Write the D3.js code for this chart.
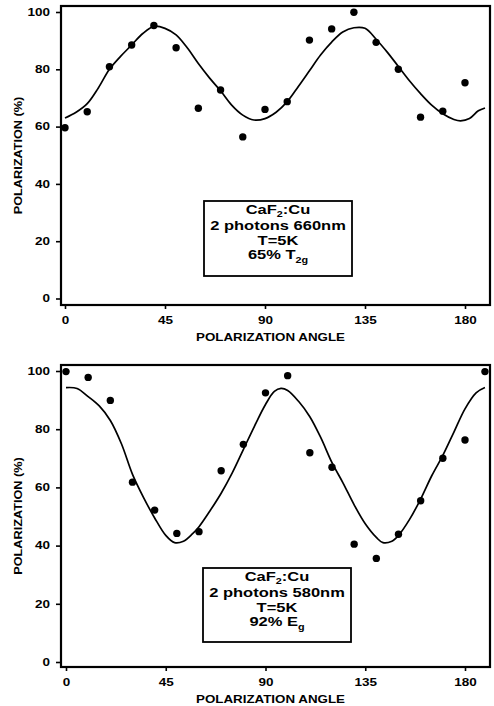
<!DOCTYPE html>
<html>
<head>
<meta charset="utf-8">
<script src="https://cdn.jsdelivr.net/npm/d3@7"></script>
<style>
  body { margin: 0; background: #fff; }
  text { font-family: "Liberation Sans", Arial, sans-serif; font-weight: bold; fill: #000; }
</style>
</head>
<body>
<script>
// tick labels
var angleTicks = [0, 45, 90, 135, 180];
var percentTicks = [0, 20, 40, 60, 80, 100];

// top panel: 2 photons 660nm
var topAngles = [0, 10, 20, 30, 40, 50, 60, 70, 80, 90, 100, 110, 120, 130, 140, 150, 160, 170, 180];
var topValues = [59.6, 65.2, 80.9, 88.5, 95.3, 87.5, 66.4, 72.8, 56.4, 66.0, 68.7, 90.2, 94.1, 99.9, 89.4, 80.0, 63.3, 65.4, 75.3];
var topFitAngles = [0, 5, 10, 15, 20, 25, 30, 35, 40, 45, 50, 55, 60, 65, 70, 75, 80, 85, 90, 95, 100, 105, 110, 115, 120, 125, 130, 135, 140, 145, 150, 155, 160, 165, 170, 175, 178, 182, 186, 189];
var topFitValues = [63, 65, 68, 73.5, 80, 84.5, 88.5, 92.5, 95, 94.3, 92, 87.5, 82, 77, 72.5, 67.5, 64, 62.3, 62.8, 65, 68.7, 74, 79.5, 85, 89.5, 93, 94.5, 94.3, 90.5, 86, 81, 76, 71.5, 67.5, 64.5, 62.5, 62, 62.8, 65.5, 66.5];
var topLegend = [[["CaF", 0], ["2", 1], [":Cu", 0]], [["2 photons 660nm", 0]], [["T=5K", 0]], [["65% T", 0], ["2g", 1]]];

// bottom panel: 2 photons 580nm
var bottomAngles = [0, 10, 20, 30, 40, 50, 60, 70, 80, 90, 100, 110, 120, 130, 140, 150, 160, 170, 180, 189];
var bottomValues = [99.8, 97.8, 89.9, 61.8, 52.2, 44.2, 44.8, 65.7, 74.8, 92.5, 98.4, 71.9, 66.9, 40.5, 35.6, 43.9, 55.4, 70.0, 76.3, 99.8];
var bottomFitAngles = [0, 5, 10, 15, 20, 25, 30, 35, 40, 45, 49, 53, 57, 60, 65, 70, 75, 80, 85, 90, 94, 97, 100, 105, 110, 115, 120, 125, 130, 135, 140, 143, 147, 150, 155, 160, 165, 170, 175, 180, 185, 189];
var bottomFitValues = [94.3, 94, 91.2, 88, 83, 75, 64.5, 56.5, 49.5, 43.5, 41, 41.5, 44, 46.5, 52, 58, 65, 73, 81, 88.5, 93, 94, 93.3, 89.5, 84.3, 77, 68.5, 61.5, 54, 47.5, 42.8, 41, 41.5, 43.5, 49, 56, 64, 71, 79, 87, 92.5, 94.3];
var bottomLegend = [[["CaF", 0], ["2", 1], [":Cu", 0]], [["2 photons 580nm", 0]], [["T=5K", 0]], [["92% E", 0], ["g", 1]]];

var svg = d3.select("body").append("svg")
  .attr("width", 494)
  .attr("height", 706);

var stretch = 1.27;
var tickStretch = 1.35;

var panels = [
  { angles: topAngles, values: topValues, fitA: topFitAngles, fitV: topFitValues, legend: topLegend,
    x: [65, 465], y: [298.5, 12], frame: [61, 6, 490, 305], box: [204, 201, 352, 276] },
  { angles: bottomAngles, values: bottomValues, fitA: bottomFitAngles, fitV: bottomFitValues, legend: bottomLegend,
    x: [66, 465], y: [662, 371], frame: [61, 365, 490, 667], box: [203, 568, 351, 642] }
];

panels.forEach(function(p) {
  var x = d3.scaleLinear().domain([0, 180]).range(p.x);
  var y = d3.scaleLinear().domain([0, 100]).range(p.y);
  var f = p.frame;

  // y axis
  var ya = svg.append("g")
    .attr("transform", "translate(" + f[0] + ",0)")
    .call(d3.axisLeft(y).tickValues(percentTicks).tickSize(5).tickPadding(4));
  ya.select(".domain").remove();
  ya.selectAll("line").attr("stroke", "#000").attr("stroke-width", 1.6);
  ya.selectAll("text")
    .attr("x", -11 / tickStretch)
    .attr("transform", "scale(" + tickStretch + ",1)")
    .style("font-size", "10px");

  // x axis
  var xa = svg.append("g")
    .attr("transform", "translate(0," + f[3] + ")")
    .call(d3.axisBottom(x).tickValues(angleTicks).tickSize(4).tickPadding(8));
  xa.select(".domain").remove();
  xa.selectAll("line").attr("stroke", "#000").attr("stroke-width", 1.6);
  xa.selectAll("text")
    .attr("transform", "scale(" + tickStretch + ",1)")
    .style("font-size", "10px");

  // frame
  svg.append("rect")
    .attr("x", f[0]).attr("y", f[1])
    .attr("width", f[2] - f[0]).attr("height", f[3] - f[1])
    .attr("fill", "none")
    .attr("stroke", "#000")
    .attr("stroke-width", 2.2);

  // axis titles
  svg.append("text")
    .attr("transform", "translate(" + ((f[0] + f[2]) / 2 - 5) + "," + (f[3] + 36) + ") scale(" + stretch + ",1)")
    .attr("text-anchor", "middle")
    .style("font-size", "10.5px")
    .text("POLARIZATION ANGLE");

  svg.append("text")
    .attr("transform", "translate(18," + ((f[1] + f[3]) / 2) + ") rotate(-90) scale(" + stretch + ",1)")
    .attr("text-anchor", "middle")
    .attr("dy", "0.35em")
    .style("font-size", "10px")
    .text("POLARIZATION (%)");

  // fitted curve
  var line = d3.line()
    .x(function(d, i) { return x(p.fitA[i]); })
    .y(function(d, i) { return y(p.fitV[i]); })
    .curve(d3.curveCatmullRom);
  svg.append("path")
    .attr("d", line(p.fitA))
    .attr("fill", "none")
    .attr("stroke", "#000")
    .attr("stroke-width", 1.7);

  // measured points
  svg.append("g").selectAll("circle")
    .data(p.angles)
    .enter().append("circle")
      .attr("cx", function(d) { return x(d); })
      .attr("cy", function(d, i) { return y(p.values[i]); })
      .attr("r", 3.7)
      .attr("fill", "#000");

  // legend box
  var b = p.box;
  svg.append("rect")
    .attr("x", b[0]).attr("y", b[1])
    .attr("width", b[2] - b[0]).attr("height", b[3] - b[1])
    .attr("fill", "#fff")
    .attr("stroke", "#000")
    .attr("stroke-width", 1.8);

  var offsets = [12.5, 28.5, 43.5, 58];
  p.legend.forEach(function(parts, k) {
    var t = svg.append("text")
      .attr("transform", "translate(" + ((b[0] + b[2]) / 2) + "," + (b[1] + offsets[k]) + ") scale(" + stretch + ",1)")
      .attr("text-anchor", "middle")
      .style("font-size", "13px");
    var shifted = false;
    parts.forEach(function(s) {
      var ts = t.append("tspan").text(s[0]);
      if (s[1]) {
        ts.attr("dy", "3.5").style("font-size", "8.5px");
        shifted = true;
      } else if (shifted) {
        ts.attr("dy", "-3.5");
        shifted = false;
      }
    });
  });
});
</script>
</body>
</html>
